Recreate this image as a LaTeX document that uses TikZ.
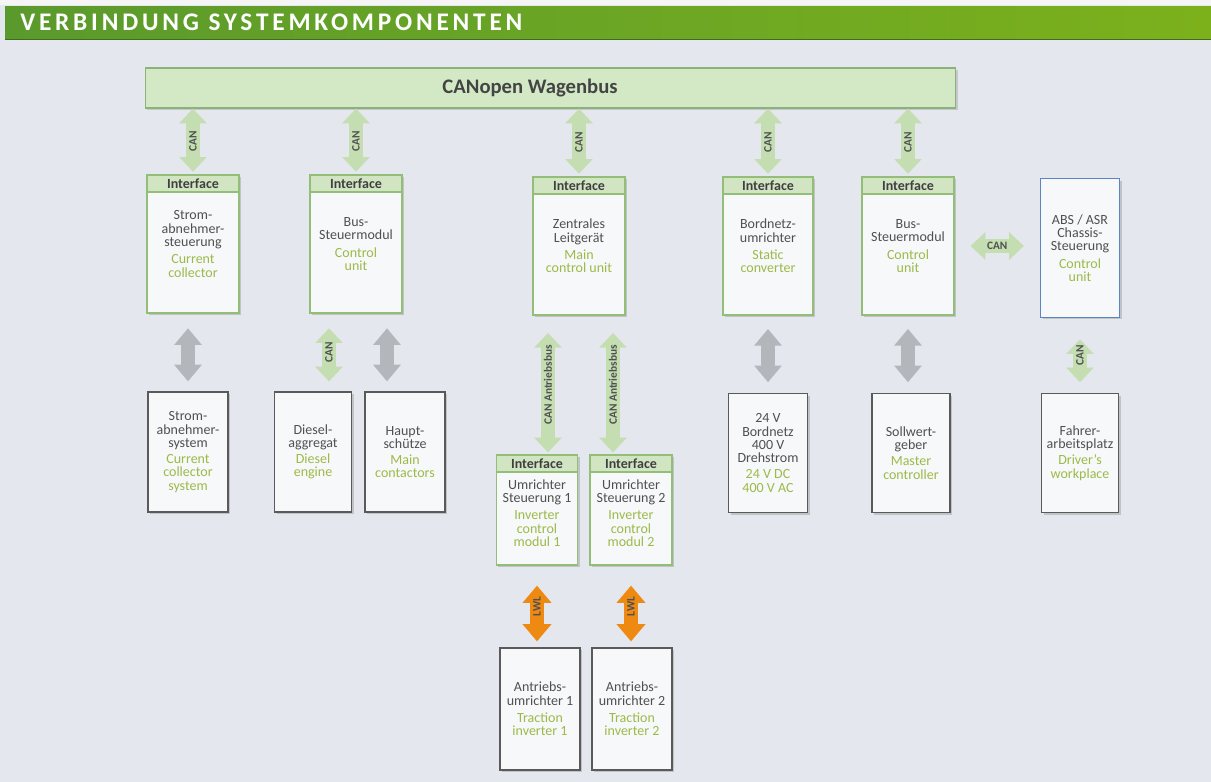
\documentclass[tikz,border=0pt]{standalone}
\usepackage{fontspec}
\setmainfont{Carlito}
\newfontfamily\titlefont{Carlito}[LetterSpace=15]
\usetikzlibrary{arrows.meta,shadows}

\definecolor{pagebg}{HTML}{E4E7EE}
\definecolor{hdleft}{HTML}{5A9A2C}
\definecolor{hdright}{HTML}{7CB11C}
\definecolor{busfill}{HTML}{D3E9C5}
\definecolor{busline}{HTML}{8DB179}
\definecolor{ifline}{HTML}{93BE77}
\definecolor{iffill}{HTML}{D2E5C3}
\definecolor{boxline}{HTML}{5A5A5A}
\definecolor{absline}{HTML}{5B84C4}
\definecolor{boxfill}{HTML}{F7F8FA}
\definecolor{detext}{HTML}{505050}
\definecolor{entext}{HTML}{9CBA48}
\definecolor{cangreen}{HTML}{C4DEB2}
\definecolor{linkgrey}{HTML}{B3B6BA}
\definecolor{lwlorange}{HTML}{EE8A12}

\newcommand\eng[1]{\textcolor{entext}{#1}}

\begin{document}
\begin{tikzpicture}[x=0.75pt,y=-0.75pt,
  box/.style={draw=boxline, line width=0.9pt, fill=boxfill, minimum width=60pt,
    minimum height=90pt, align=center, text=detext, inner sep=1pt,
    font=\fontsize{10.5}{10}\selectfont,
    drop shadow={shadow xshift=1.6pt, shadow yshift=-1.6pt, opacity=0.35}},
  ifbox/.style={box, draw=ifline, minimum width=69pt, minimum height=103.5pt},
  ifhead/.style={draw=ifline, fill=iffill, line width=0.9pt, anchor=north,
    minimum height=12.75pt, inner sep=0pt, text=detext!80!black,
    font=\bfseries\fontsize{10.5}{10.5}\selectfont},
  can/.style={draw=cangreen, line width=10pt,
    {Triangle[length=11pt 0,width=20pt 0]}-{Triangle[length=11pt 0,width=20pt 0]}},
  link/.style={draw=linkgrey, line width=11pt,
    {Triangle[length=12.5pt 0,width=20pt 0]}-{Triangle[length=12.5pt 0,width=20pt 0]}},
  lwl/.style={draw=lwlorange, line width=11pt,
    {Triangle[length=13pt 0,width=21pt 0]}-{Triangle[length=13pt 0,width=21pt 0]}},
  canlbl/.style={font=\bfseries\fontsize{8.5}{8.5}\selectfont, text=detext, inner sep=0pt}]

\useasboundingbox (0,0) rectangle (1211,782);
\fill[pagebg] (0,0) rectangle (1211,782);
\fill[black!4] (0,0) rectangle (1211,5);

% title bar
\fill[left color=hdleft, right color=hdright] (5,6) rectangle (1211,39);
\draw[hdleft!70!black, line width=0.6pt] (5,39) -- (1211,39);
\node[anchor=west, text=white, inner sep=0pt, font=\titlefont\bfseries\fontsize{19}{19}\selectfont]
  (title) at (20,22) {VERBINDUNG SYSTEMKOMPONENTEN};

% wagon bus
\node[draw=busline, line width=0.9pt, fill=busfill, minimum width=608pt, minimum height=30pt,
  drop shadow={shadow xshift=1.6pt, shadow yshift=-1.6pt, opacity=0.3}] (bus) at (550.5,88) {};
\node[font=\bfseries\fontsize{15.5}{15.5}\selectfont, text=detext!85!black] (buslbl) at (530,88) {CANopen Wagenbus};

% upper row
\node[ifbox] (strom) at (193,244) {Strom-\\abnehmer-\\steuerung\\[3pt]\eng{Current}\\\eng{collector}};
\node[ifbox] (busA) at (356,244) {Bus-\\Steuermodul\\[3pt]\eng{Control}\\\eng{unit}};
\node[ifbox] (zentral) at (579,246) {Zentrales\\Leitgerät\\[3pt]\eng{Main}\\\eng{control unit}};
\node[ifbox, minimum width=67.5pt] (bordnetz) at (768,246) {Bordnetz-\\umrichter\\[3pt]\eng{Static}\\\eng{converter}};
\node[ifbox] (busB) at (908,246) {Bus-\\Steuermodul\\[3pt]\eng{Control}\\\eng{unit}};
\node[box, draw=absline, minimum width=59.25pt, minimum height=104pt] (abs) at (1080,248)
  {ABS / ASR\\Chassis-\\Steuerung\\[3pt]\eng{Control}\\\eng{unit}};

\node[ifhead, minimum width=69pt] (strom-if) at (strom.north) {Interface};
\node[ifhead, minimum width=69pt] (busA-if) at (busA.north) {Interface};
\node[ifhead, minimum width=69pt] (zentral-if) at (zentral.north) {Interface};
\node[ifhead, minimum width=67.5pt] (bordnetz-if) at (bordnetz.north) {Interface};
\node[ifhead, minimum width=69pt] (busB-if) at (busB.north) {Interface};

% lower row
\node[box] (stromsys) at (188,452) {Strom-\\abnehmer-\\system\\[2pt]\eng{Current}\\\eng{collector}\\\eng{system}};
\node[box, minimum width=57.75pt] (diesel) at (313,452) {Diesel-\\aggregat\\[2pt]\eng{Diesel}\\\eng{engine}};
\node[box] (haupt) at (405,452) {Haupt-\\schütze\\[2pt]\eng{Main}\\\eng{contactors}};
\node[box, minimum width=59.25pt, minimum height=89.25pt] (netz24) at (768,453)
  {24 V\\Bordnetz\\400 V\\Drehstrom\\[2pt]\eng{24 V DC}\\\eng{400 V AC}};
\node[box, minimum width=58.5pt, minimum height=89.25pt] (soll) at (911,453) {Sollwert-\\geber\\[2pt]\eng{Master}\\\eng{controller}};
\node[box, minimum width=57.75pt, minimum height=89.25pt] (fahrer) at (1080,453) {Fahrer-\\arbeitsplatz\\[2pt]\eng{Driver’s}\\\eng{workplace}};

% drive train
\node[ifbox, minimum width=61pt, minimum height=82.5pt] (umr1) at (537,510) {\\[2pt]Umrichter\\Steuerung 1\\[3pt]\eng{Inverter}\\\eng{control}\\\eng{modul 1}};
\node[ifbox, minimum width=61.5pt, minimum height=82.5pt] (umr2) at (631,510) {\\[2pt]Umrichter\\Steuerung 2\\[3pt]\eng{Inverter}\\\eng{control}\\\eng{modul 2}};
\node[ifhead, minimum width=61pt] (umr1-if) at (umr1.north) {Interface};
\node[ifhead, minimum width=61.5pt] (umr2-if) at (umr2.north) {Interface};
\node[box, minimum height=91.5pt] (antr1) at (540,709) {Antriebs-\\umrichter 1\\[3pt]\eng{Traction}\\\eng{inverter 1}};
\node[box, minimum height=91.5pt] (antr2) at (632,709) {Antriebs-\\umrichter 2\\[3pt]\eng{Traction}\\\eng{inverter 2}};

% bus links
\draw[can, shorten >=2pt] (bus.south -| strom.north) -- (strom.north) node[midway, canlbl, rotate=90] {CAN};
\draw[can, shorten >=2pt] (bus.south -| busA.north) -- (busA.north) node[midway, canlbl, rotate=90] {CAN};
\draw[can, shorten >=2pt] (bus.south -| zentral.north) -- (zentral.north) node[midway, canlbl, rotate=90] {CAN};
\draw[can, shorten >=2pt] (bus.south -| bordnetz.north) -- (bordnetz.north) node[midway, canlbl, rotate=90] {CAN};
\draw[can, shorten >=2pt] (bus.south -| busB.north) -- (busB.north) node[midway, canlbl, rotate=90] {CAN};
\draw[can, shorten <=12pt, shorten >=12pt] (busB.east) -- (busB.east -| abs.west) node[midway, canlbl] {CAN};

% device links
\coordinate (dieselx) at (329,0);
\coordinate (hauptx) at (387,0);
\coordinate (drive1x) at (548,0);
\coordinate (drive2x) at (613,0);
\draw[link, shorten <=11pt, shorten >=7.5pt] (strom.south -| stromsys.north) -- (stromsys.north);
\draw[can, shorten <=11pt, shorten >=7.5pt] (busA.south -| dieselx) -- (diesel.north -| dieselx)
  node[midway, canlbl, rotate=90] {CAN};
\draw[link, shorten <=11pt, shorten >=7.5pt] (busA.south -| hauptx) -- (haupt.north -| hauptx);
\draw[can, shorten <=13pt, shorten >=1.5pt] (zentral.south -| drive1x) -- (umr1.north -| drive1x)
  node[midway, canlbl, rotate=90] {CAN Antriebsbus};
\draw[can, shorten <=13pt, shorten >=1.5pt] (zentral.south -| drive2x) -- (umr2.north -| drive2x)
  node[midway, canlbl, rotate=90] {CAN Antriebsbus};
\draw[lwl, shorten <=15pt, shorten >=4.5pt] (umr1.south) -- (umr1.south |- antr1.north)
  node[midway, canlbl, rotate=90] {LWL};
\draw[lwl, shorten <=15pt, shorten >=4.5pt] (umr2.south) -- (umr2.south |- antr2.north)
  node[midway, canlbl, rotate=90] {LWL};
\draw[link, shorten <=10pt, shorten >=8pt] (bordnetz.south) -- (bordnetz.south |- netz24.north);
\draw[link, shorten <=10pt, shorten >=8pt] (busB.south) -- (busB.south |- soll.north);
\draw[can, shorten <=16pt, shorten >=8pt] (abs.south) -- (fahrer.north) node[midway, canlbl, rotate=90] {CAN};
\end{tikzpicture}
\end{document}
